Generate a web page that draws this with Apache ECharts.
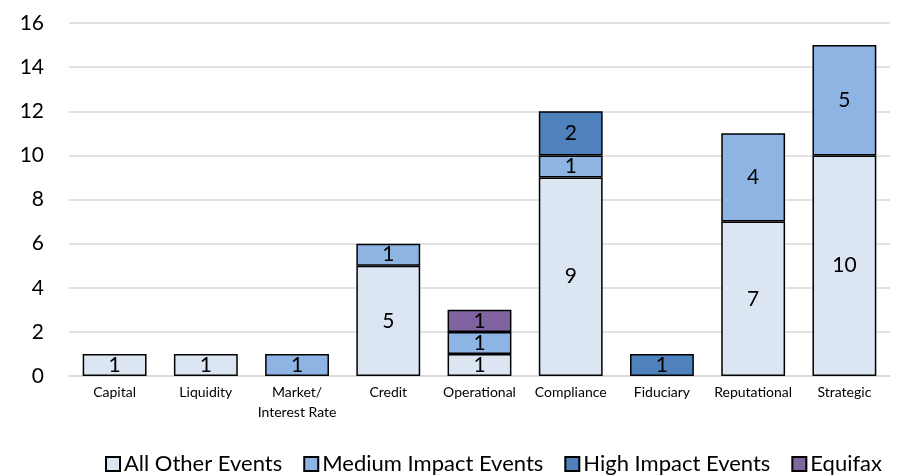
<!DOCTYPE html>
<html><head><meta charset="utf-8">
<script src="https://cdn.jsdelivr.net/npm/echarts@6/dist/echarts.min.js"></script>
<style>html,body{margin:0;padding:0;background:#fff}#c{width:903px;height:476px}</style>
</head><body><div id="c"></div>
<script>
const categories = ['Capital','Liquidity','Market/\nInterest Rate','Credit','Operational','Compliance','Fiduciary','Reputational','Strategic'];
const allOther = [1,1,null,5,1,9,null,7,10];
const medium = [null,null,1,1,1,1,null,4,5];
const high = [null,null,null,null,null,2,1,null,null];
const equifax = [null,null,null,null,1,null,null,null,null];
const yTicks = [0,2,4,6,8,10,12,14,16];

const FONT = 'Lato';
const chart = echarts.init(document.getElementById('c'));
function mk(name, data, color){
  return {name, type:'bar', stack:'s', data, barWidth:'70%',
    itemStyle:{color, borderColor:'#000', borderWidth:1.5},
    label:{show:true, position:'inside', color:'#000', fontFamily:FONT, fontSize:21}};
}
chart.setOption({
  animation:false,
  textStyle:{fontFamily:FONT},
  grid:{left:69, right:13, top:23, bottom:100},
  xAxis:{type:'category', data:categories,
    axisLine:{lineStyle:{color:'#d9d9d9', width:1.5}}, axisTick:{show:false},
    axisLabel:{color:'#000', fontSize:14, fontFamily:FONT, margin:6, lineHeight:20, interval:0}},
  yAxis:{type:'value', min:yTicks[0], max:yTicks[yTicks.length-1], interval:2,
    axisLine:{show:false}, axisTick:{show:false},
    splitLine:{lineStyle:{color:'#d9d9d9', width:1.5}},
    axisLabel:{color:'#000', fontSize:21, fontFamily:FONT, margin:25}},
  legend:{top:448, left:100, itemWidth:14, itemHeight:14, itemGap:21,
    textStyle:{fontSize:22, fontFamily:FONT, color:'#000', padding:[0,0,0,-1]},
    icon:'rect',
    data:['All Other Events','Medium Impact Events','High Impact Events','Equifax']},
  series:[
    mk('All Other Events', allOther, '#dce6f2'),
    mk('Medium Impact Events', medium, '#8db4e2'),
    mk('High Impact Events', high, '#4f81bd'),
    mk('Equifax', equifax, '#8064a2')
  ]
});
</script></body></html>
